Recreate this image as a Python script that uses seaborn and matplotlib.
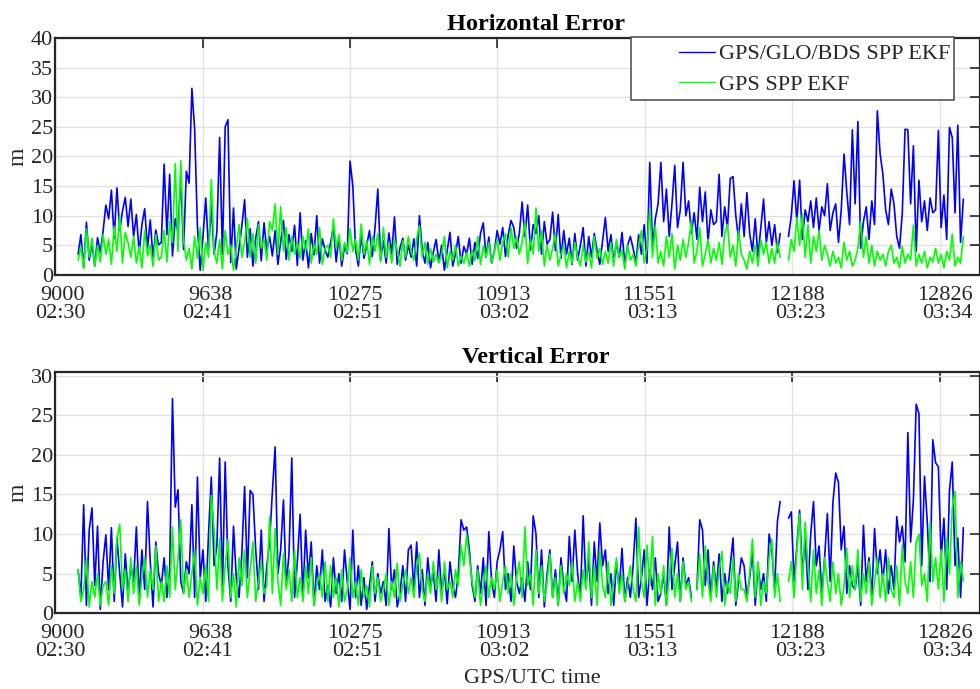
import numpy as np
import pandas as pd
import matplotlib
matplotlib.use("Agg")
import matplotlib.pyplot as plt
import seaborn as sns
from matplotlib.lines import Line2D
from matplotlib.patches import Rectangle
from matplotlib.transforms import ScaledTranslation

nan = float("nan")

# ---------------- data (one value every 12 s) -------------
t_start = 9100
t_step = 12

xtick_gps = [9000, 9638, 10275, 10913, 11551, 12188, 12826]
xtick_utc = ["02:30", "02:41", "02:51", "03:02", "03:13", "03:23", "03:34"]

series_names = ["GPS/GLO/BDS SPP EKF", "GPS SPP EKF"]

h_multi = [
    3.5, 6.8, 1.2, 8.9, 2.5, 5.2, 1.5, 6.3, 3.8, 7.4,
    11.8, 9.5, 14.3, 6.2, 14.7, 7.5, 10.8, 13.1, 8.2, 12.8,
    6.5, 10.2, 3.8, 8.5, 11.2, 4.5, 9.3, 2.8, 7.6, 5.1,
    5.5, 18.7, 6.8, 17.0, 3.2, 9.5, 7.2, 16.8, 4.3, 17.5,
    15.5, 31.5, 24.5, 8.2, 0.8, 6.5, 13.0, 4.2, 11.8, 3.5,
    7.2, 23.2, 3.5, 25.0, 26.2, 2.1, 11.3, 1.0, 4.5, 8.3,
    12.7, 3.0, 7.8, 1.5, 6.2, 9.0, 2.4, 8.8, 4.1, 6.5,
    3.2, 7.5, 1.8, 5.6, 9.2, 2.6, 6.8, 4.0, 8.4, 1.6,
    10.5, 2.5, 5.8, 1.2, 7.0, 3.4, 10.0, 2.0, 6.1, 4.2,
    3.0, 5.5, 8.2, 2.2, 6.6, 1.5, 4.8, 3.6, 19.2, 15.0,
    4.2, 1.5, 6.8, 2.8, 5.0, 7.5, 3.1, 8.0, 14.5, 2.5,
    5.8, 2.0, 7.1, 3.5, 9.8, 1.8, 4.6, 6.2, 2.5, 5.0,
    3.0, 6.1, 1.5, 10.0, 4.2, 2.0, 5.5, 1.2, 3.8, 6.0,
    2.2, 5.0, 0.8, 4.1, 7.2, 1.5, 3.6, 6.5, 2.0, 4.8,
    3.5, 6.2, 1.8, 5.5, 2.8, 7.0, 8.8, 3.0, 6.4, 2.0,
    4.0, 7.5, 5.2, 8.0, 3.1, 6.8, 9.2, 8.0, 4.5, 7.0,
    12.3, 6.5, 11.8, 4.2, 8.5, 7.0, 10.0, 3.5, 9.0, 5.2,
    6.0, 10.6, 4.1, 10.2, 2.8, 7.5, 3.5, 6.2, 1.8, 7.0,
    2.5, 5.0, 8.0, 1.5, 6.5, 3.0, 7.0, 4.2, 1.8, 5.8,
    9.7, 4.0, 6.8, 2.2, 5.5, 3.0, 7.2, 1.8, 5.0, 6.5,
    4.5, 2.0, 6.8, 3.5, 8.5, 2.0, 19.0, 4.5, 9.5, 12.0,
    19.0, 9.0, 14.5, 6.5, 12.0, 18.5, 8.0, 11.0, 19.0, 10.0,
    12.5, 7.0, 10.5, 6.0, 14.8, 9.0, 14.0, 5.5, 11.0, 8.5,
    9.0, 17.0, 6.5, 11.5, 8.0, 16.3, 16.6, 10.0, 6.0, 12.0,
    6.5, 13.9, 7.0, 4.0, 9.5, 3.0, 8.0, 12.8, 5.5, 9.0,
    5.0, 8.5, 3.8, 7.0, nan, nan, 6.5, 10.0, 15.9, 9.0,
    16.0, 6.0, 11.0, 9.0, 12.5, 8.0, 13.0, 7.5, 11.5, 10.0,
    15.4, 7.5, 10.5, 12.0, 5.5, 11.0, 20.4, 14.0, 8.5, 24.5,
    12.0, 25.9, 4.5, 9.0, 11.5, 6.0, 12.5, 8.5, 27.7, 20.5,
    17.0, 11.0, 8.5, 14.5, 12.0, 6.5, 4.5, 10.5, 24.6, 24.5,
    12.0, 21.8, 4.0, 16.0, 9.0, 12.5, 7.5, 13.0, 10.5, 11.0,
    24.4, 8.0, 13.5, 6.0, 24.9, 23.2, 10.5, 25.3, 5.5, 12.8,
]

h_gps = [
    2.5, 4.8, 1.2, 7.8, 3.0, 6.2, 1.5, 5.0, 2.2, 6.8,
    3.5, 6.0, 1.8, 8.2, 4.0, 10.0, 2.0, 7.2, 5.5, 3.0,
    6.5, 2.0, 4.8, 1.2, 7.5, 3.2, 5.0, 1.5, 6.8, 2.5,
    3.0, 7.5, 2.2, 9.0, 5.5, 18.8, 4.0, 19.3, 6.0, 2.5,
    4.5, 1.0, 6.5, 2.8, 8.0, 0.8, 5.5, 3.0, 16.1, 4.0,
    2.0, 6.0, 1.0, 7.5, 3.5, 5.0, 0.8, 4.5, 8.5, 3.0,
    5.5, 9.5, 3.0, 7.0, 2.0, 8.5, 4.5, 6.0, 2.5, 9.0,
    7.5, 12.0, 3.5, 11.5, 4.0, 8.0, 2.5, 6.5, 3.5, 5.5,
    2.8, 6.5, 4.0, 7.8, 2.0, 5.2, 3.5, 8.0, 1.8, 4.5,
    5.0, 3.0, 9.5, 4.5, 6.8, 2.5, 5.5, 3.8, 7.8, 4.0,
    6.0, 2.5, 8.6, 3.5, 5.8, 1.8, 6.5, 4.0, 7.0, 2.2,
    8.0, 3.0, 5.5, 2.0, 6.0, 4.2, 1.5, 5.8, 3.0, 6.5,
    4.0, 2.5, 6.2, 8.3, 3.0, 5.5, 1.8, 4.5, 2.2, 3.5,
    2.0, 3.5, 6.5, 1.2, 4.0, 2.5, 5.0, 1.5, 3.2, 2.0,
    3.8, 1.5, 4.2, 2.5, 6.5, 1.8, 4.8, 3.0, 5.5, 2.0,
    4.0, 6.0, 2.5, 5.5, 7.0, 3.0, 8.0, 4.5, 6.5, 3.5,
    5.5, 8.9, 2.0, 6.0, 3.5, 11.3, 4.0, 7.5, 1.5, 5.0,
    2.5, 4.5, 7.0, 1.5, 3.5, 5.0, 1.2, 4.0, 2.0, 5.5,
    3.0, 1.5, 5.0, 2.2, 4.0, 1.2, 6.5, 2.8, 4.5, 1.8,
    4.0, 2.0, 5.5, 1.5, 6.0, 3.0, 4.2, 1.0, 5.0, 2.5,
    3.5, 1.5, 5.0, 7.5, 2.0, 4.5, 11.1, 3.0, 8.3, 2.0,
    4.0, 1.5, 6.5, 3.0, 7.0, 1.0, 5.0, 2.5, 6.0, 3.0,
    5.5, 9.2, 2.0, 4.0, 8.0, 1.5, 3.5, 6.0, 2.0, 4.5,
    2.5, 5.5, 1.8, 7.0, 8.5, 3.0, 5.0, 1.5, 7.5, 3.5,
    2.5, 1.0, 4.0, 2.0, 5.0, 1.5, 6.0, 3.5, 5.5, 2.0,
    4.5, 2.0, 5.5, 3.0, nan, nan, 2.5, 6.0, 4.0, 9.7,
    5.0, 10.3, 3.0, 8.5, 2.0, 6.5, 4.0, 7.5, 2.5, 5.0,
    3.5, 1.5, 4.0, 2.0, 3.0, 1.2, 5.5, 2.5, 4.0, 1.5,
    2.5, 4.5, 9.0, 3.0, 6.5, 2.0, 5.0, 1.5, 4.0, 2.5,
    3.5, 1.5, 4.0, 5.0, 2.0, 3.0, 1.2, 4.8, 2.0, 3.5,
    2.5, 8.4, 1.5, 3.5, 2.0, 4.0, 1.2, 3.0, 2.2, 4.5,
    2.0, 3.5, 1.2, 4.0, 2.5, 6.9, 1.5, 3.0, 2.0, 6.5,
]

v_multi = [
    5.5, 2.0, 13.7, 1.0, 10.5, 13.3, 3.5, 11.0, 0.5, 6.5,
    9.9, 3.0, 10.8, 1.5, 9.5, 5.0, 0.8, 7.5, 2.5, 6.0,
    4.0, 10.9, 1.5, 8.0, 3.0, 14.1, 6.5, 0.8, 9.0, 5.0,
    3.5, 7.0, 2.0, 5.5, 27.1, 13.4, 15.6, 4.0, 2.5, 6.5,
    5.0, 13.7, 2.0, 17.2, 4.5, 8.0, 1.5, 10.0, 17.2, 6.0,
    8.5, 19.6, 3.0, 19.1, 6.0, 1.5, 11.0, 4.5, 2.0, 7.5,
    16.0, 4.5, 15.5, 15.0, 8.0, 3.0, 10.5, 1.5, 6.0, 9.0,
    15.3, 21.0, 5.0, 8.0, 14.3, 3.5, 7.5, 19.6, 2.0, 6.5,
    12.5, 2.0, 10.5, 4.5, 9.0, 1.0, 6.0, 3.0, 8.0, 1.5,
    3.5, 0.8, 7.0, 2.5, 5.0, 1.5, 8.0, 4.0, 0.5, 10.5,
    2.0, 6.0, 1.0, 4.5, 0.5, 3.5, 6.5, 1.5, 5.0, 2.5,
    4.0, 1.0, 10.7, 3.0, 5.5, 0.8, 2.5, 6.0, 1.5, 8.0,
    8.6, 3.0, 9.0, 2.0, 5.5, 1.0, 7.0, 3.5, 5.0, 1.5,
    8.0, 2.5, 5.5, 1.2, 6.5, 3.5, 2.0, 5.0, 11.8, 10.5,
    10.9, 8.0, 3.5, 1.5, 6.0, 2.5, 7.0, 1.0, 10.3, 4.0,
    2.0, 6.5, 8.0, 10.3, 3.0, 5.0, 1.5, 8.5, 4.0, 2.5,
    4.5, 1.5, 6.5, 3.0, 12.3, 10.0, 2.0, 8.0, 0.8, 5.0,
    8.0, 2.0, 5.5, 1.0, 7.0, 3.5, 1.5, 9.7, 4.0, 10.5,
    5.0, 2.0, 12.3, 3.5, 7.0, 1.0, 9.0, 4.0, 11.4, 6.0,
    8.0, 2.5, 5.0, 1.0, 6.5, 3.0, 8.2, 1.5, 4.5, 2.0,
    6.0, 12.0, 2.0, 4.5, 8.0, 1.0, 5.5, 3.0, 7.0, 1.5,
    2.5, 5.0, 1.0, 10.9, 3.0, 6.0, 9.0, 1.5, 7.0, 3.5,
    4.5, 2.0, nan, 3.0, 11.8, 10.5, 3.5, 8.0, 2.0, 6.5,
    3.0, 7.5, 1.5, 5.0, 2.5, 6.0, 9.5, 1.0, 4.0, 7.0,
    6.0, 2.0, 4.5, 7.8, 1.0, 6.0, 3.0, 5.0, 1.5, 10.0,
    8.0, 3.0, 11.6, 14.1, nan, nan, 12.0, 12.8, 4.0, 8.5,
    13.0, 5.0, 9.5, 3.0, 10.0, 14.1, 6.0, 8.5, 2.5, 7.0,
    12.6, 4.0, 14.0, 17.7, 16.5, 8.0, 11.0, 2.5, 6.0, 3.5,
    3.0, 6.0, 1.0, 11.1, 4.0, 7.0, 2.0, 10.7, 5.0, 8.0,
    4.0, 8.0, 2.5, 6.0, 3.0, 12.2, 9.0, 11.0, 6.5, 22.8,
    9.0, 14.3, 26.4, 25.2, 6.0, 17.3, 11.5, 4.0, 21.9, 19.0,
    18.5, 7.0, 12.0, 3.0, 15.5, 19.1, 6.0, 9.5, 2.0, 10.8,
]

v_gps = [
    5.5, 1.5, 3.0, 6.9, 0.8, 4.0, 2.0, 5.0, 1.0, 3.5,
    4.0, 1.0, 6.0, 2.5, 9.5, 11.2, 3.0, 5.5, 1.5, 7.0,
    2.5, 6.0, 1.0, 4.5, 7.0, 2.0, 5.5, 3.0, 8.5, 1.5,
    4.0, 1.5, 6.0, 2.0, 10.9, 3.0, 7.0, 11.8, 2.5, 5.5,
    2.0, 5.0, 8.0, 1.0, 4.5, 2.5, 6.0, 1.5, 14.9, 10.5,
    3.0, 9.5, 1.5, 6.0, 9.3, 2.0, 5.0, 0.8, 7.0, 3.5,
    8.0, 2.0, 5.5, 9.0, 1.5, 4.0, 6.5, 2.5, 3.5, 12.2,
    2.5, 10.7, 4.0, 1.0, 7.5, 3.0, 5.5, 1.5, 8.0, 2.0,
    4.5, 1.5, 6.0, 2.5, 7.0, 1.0, 3.5, 5.0, 2.0, 6.5,
    1.5, 6.0, 2.0, 4.5, 0.8, 5.5, 1.5, 3.0, 7.0, 2.0,
    4.0, 1.0, 5.5, 2.0, 3.5, 0.8, 6.0, 2.5, 4.5, 1.5,
    3.0, 5.0, 1.0, 4.0, 2.0, 6.3, 1.5, 3.5, 5.5, 2.5,
    4.5, 2.0, 6.0, 7.6, 3.0, 1.5, 5.0, 2.5, 6.5, 3.0,
    5.0, 1.5, 6.5, 3.0, 4.0, 2.0, 5.5, 3.5, 8.6, 6.0,
    9.9, 7.0, 4.0, 2.0, 5.5, 1.0, 3.5, 6.0, 2.0, 4.5,
    3.0, 5.5, 1.5, 4.0, 6.0, 2.5, 5.0, 1.0, 4.5, 6.5,
    2.0, 10.9, 3.5, 5.0, 1.0, 8.0, 2.5, 6.0, 1.5, 4.0,
    7.5, 2.0, 4.5, 1.0, 6.0, 2.5, 5.0, 3.5, 6.5, 1.5,
    4.0, 1.5, 5.5, 3.0, 9.0, 2.0, 6.0, 1.0, 8.0, 3.5,
    2.0, 6.5, 1.0, 4.0, 7.0, 2.5, 5.0, 1.5, 3.5, 6.0,
    3.0, 1.5, 10.9, 4.0, 2.0, 8.6, 3.5, 9.7, 1.0, 5.0,
    2.5, 6.0, 1.0, 4.5, 8.2, 2.0, 5.0, 1.5, 6.5, 3.0,
    4.0, 1.5, nan, 3.0, 7.5, 2.0, 8.5, 4.0, 1.5, 6.0,
    2.0, 5.5, 7.8, 1.0, 4.0, 2.5, 7.0, 1.5, 5.0, 3.0,
    3.0, 1.5, 5.0, 9.4, 2.0, 6.5, 1.0, 4.0, 2.5, 7.0,
    9.3, 2.0, 5.0, 1.5, nan, nan, 4.0, 6.5, 2.0, 8.0,
    12.5, 3.0, 11.5, 6.0, 1.5, 8.0, 2.5, 5.5, 1.0, 7.0,
    4.0, 1.5, 6.5, 2.5, 5.0, 1.0, 3.5, 8.2, 2.0, 6.0,
    3.0, 8.0, 1.5, 5.0, 2.5, 6.5, 1.0, 4.0, 7.0, 2.0,
    5.0, 1.5, 7.0, 3.0, 2.0, 6.0, 1.0, 8.6, 4.0, 2.5,
    6.5, 2.0, 9.0, 10.0, 3.5, 5.0, 1.5, 11.4, 4.0, 7.0,
    3.0, 8.0, 1.5, 9.5, 5.0, 13.3, 15.4, 2.0, 6.5, 4.0,
]

# ---------------- style ----------------
sns.set_theme(style="white")
plt.rcParams["font.family"] = ["Liberation Serif", "DejaVu Serif"]

BLUE = "#0000ff"
GREEN = "#00ff00"
DARK = "#262626"

fig = plt.figure(figsize=(9.80, 6.89), dpi=100)
ax_h = fig.add_axes([0.0561, 0.6009, 0.9439, 0.3440])
ax_v = fig.add_axes([0.0561, 0.1099, 0.9439, 0.3507])


def draw(ax, vals, color):
    v = np.asarray(vals, dtype=float)
    t = t_start + t_step * np.arange(len(v))
    seg = np.cumsum(np.isnan(v))
    df = pd.DataFrame({"t": t, "v": v, "seg": seg}).dropna()
    sns.lineplot(data=df, x="t", y="v", units="seg", estimator=None,
                 color=color, linewidth=1.2, ax=ax, legend=False)


def style(ax, ymax, ytop, title):
    ax.set_xlim(9000, 13000)
    ax.set_ylim(0, ytop)
    ax.set_yticks(np.arange(0, ymax + 1, 5))
    ax.set_xticks(xtick_gps)
    ax.set_xticklabels([f"{g}\n{u}" for g, u in zip(xtick_gps, xtick_utc)])
    ax.grid(True, color="#e2e2e2", linewidth=1.0)
    ax.set_axisbelow(True)
    ax.tick_params(direction="in", length=7, width=1.2, top=True, right=True,
                   labelsize=16, colors=DARK)
    ax.tick_params(axis="x", pad=8)
    ax.tick_params(axis="y", pad=1.5)
    shift = ScaledTranslation(0.05, 0, fig.dpi_scale_trans)
    for lab in ax.get_xticklabels():
        lab.set_linespacing(0.92)
        lab.set_multialignment("right")
        lab.set_transform(lab.get_transform() + shift)
    for s in ax.spines.values():
        s.set_color(DARK)
        s.set_linewidth(1.6)
        s.set_visible(True)
    ax.set_xlabel("")
    ax.set_ylabel("m", fontsize=17, color=DARK)
    ax.yaxis.set_label_coords(-0.029, 0.5)
    ax.set_title(title, fontsize=17.5, fontweight="bold", color="black",
                 pad=6, x=0.52)


draw(ax_h, h_multi, BLUE)
draw(ax_h, h_gps, GREEN)
draw(ax_v, v_multi, BLUE)
draw(ax_v, v_gps, GREEN)

style(ax_h, 40, 40, "Horizontal Error")
style(ax_v, 30, 30.5, "Vertical Error")

ax_v.set_xlabel("GPS/UTC time", fontsize=16, color=DARK)
ax_v.xaxis.set_label_coords(0.516, -0.232)

# legend (MATLAB-like box)
ax_h.add_patch(Rectangle((0.6223, 0.7384), 0.3496, 0.2658, transform=ax_h.transAxes,
                         facecolor="white", edgecolor="#555555", linewidth=1.2,
                         clip_on=False, zorder=5))
handles = [Line2D([], [], color=BLUE, lw=1.0), Line2D([], [], color=GREEN, lw=1.0)]
leg = ax_h.legend(handles, series_names, loc="upper left",
                  bbox_to_anchor=(0.675, 0.975), frameon=False, fontsize=16,
                  handlelength=1.6, handletextpad=0.2, borderpad=0.0,
                  labelspacing=0.45, borderaxespad=0.0)
leg.set_zorder(6)
for txt in leg.get_texts():
    txt.set_color(DARK)

fig.savefig("out.png", dpi=100)
